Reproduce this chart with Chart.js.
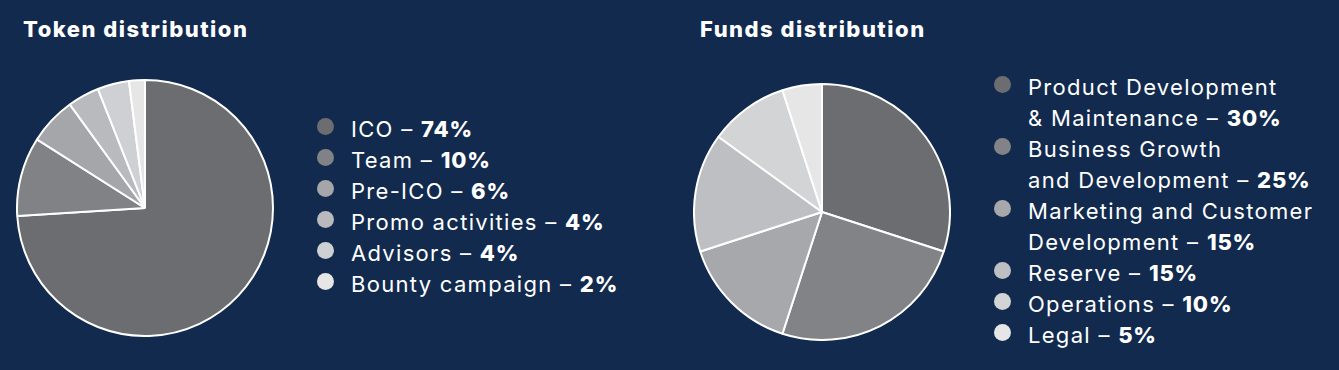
<!DOCTYPE html>
<html>
<head>
<meta charset="utf-8">
<script src="https://cdn.jsdelivr.net/npm/chart.js@4"></script>
<style>
  html, body { margin: 0; padding: 0; }
  body {
    width: 1339px; height: 370px; position: relative; overflow: hidden;
    background: #112a4e; color: #fff;
    font-family: Inter, 'Open Sans', sans-serif;
  }
  .title { position: absolute; top: 16px; font-size: 22px; line-height: 26px; font-weight: 800; letter-spacing: 1.5px; }
  .pie { position: absolute; width: 258px; height: 258px; }
  .legend { position: absolute; list-style: none; margin: 0; padding: 0; font-size: 22px; line-height: 31px; font-weight: 400; letter-spacing: 1.3px; }
  .legend li { position: relative; padding-left: 25px; white-space: nowrap; }
  .legend .dot { position: absolute; left: -9px; top: 4px; width: 17px; height: 17px; border-radius: 50%; }
  .legend b { font-weight: 800; letter-spacing: 0.8px; }
</style>
</head>
<body>
<div class="title" style="left:23px">Token distribution</div>
<div class="title" style="left:700px">Funds distribution</div>
<canvas id="token-pie" class="pie" style="left:16px; top:79px"></canvas>
<canvas id="funds-pie" class="pie" style="left:693px; top:83px"></canvas>
<ul id="token-legend" class="legend" style="left:326px; top:114px"></ul>
<ul id="funds-legend" class="legend" style="left:1003px; top:72px"></ul>
<script>
// token distribution
const tokenLabels = ['ICO', 'Team', 'Pre-ICO', 'Promo activities', 'Advisors', 'Bounty campaign'];
const tokenValues = [74, 10, 6, 4, 4, 2];
const tokenColors = ['#6c6d71', '#818286', '#a5a6aa', '#b9babe', '#cfd0d3', '#e6e6e7'];

// funds distribution (multi-line labels)
const fundsLabels = [
  ['Product Development', '& Maintenance'],
  ['Business Growth', 'and Development'],
  ['Marketing and Customer', 'Development'],
  ['Reserve'],
  ['Operations'],
  ['Legal']
];
const fundsValues = [30, 25, 15, 15, 10, 5];
const fundsColors = ['#6c6d71', '#828387', '#a7a8ab', '#bebfc2', '#d3d4d6', '#e6e6e7'];

function drawPie(id, labels, values, colors) {
  new Chart(document.getElementById(id), {
    type: 'pie',
    data: {
      labels: labels.map(l => Array.isArray(l) ? l.join(' ') : l),
      datasets: [{
        data: values,
        backgroundColor: colors,
        borderColor: '#ffffff',
        borderWidth: 2
      }]
    },
    options: {
      responsive: false,
      animation: false,
      layout: { padding: 0 },
      plugins: { legend: { display: false }, tooltip: { enabled: false } }
    }
  });
}

function buildLegend(id, labels, values, colors) {
  const ul = document.getElementById(id);
  labels.forEach((l, i) => {
    const lines = Array.isArray(l) ? l : [l];
    const li = document.createElement('li');
    const head = lines.slice(0, -1).map(s => s + '<br>').join('');
    li.innerHTML = '<span class="dot" style="background:' + colors[i] + '"></span>' +
      head + lines[lines.length - 1] + ' – <b>' + values[i] + '%</b>';
    ul.appendChild(li);
  });
}

drawPie('token-pie', tokenLabels, tokenValues, tokenColors);
drawPie('funds-pie', fundsLabels, fundsValues, fundsColors);
buildLegend('token-legend', tokenLabels, tokenValues, tokenColors);
buildLegend('funds-legend', fundsLabels, fundsValues, fundsColors);
</script>
</body>
</html>
